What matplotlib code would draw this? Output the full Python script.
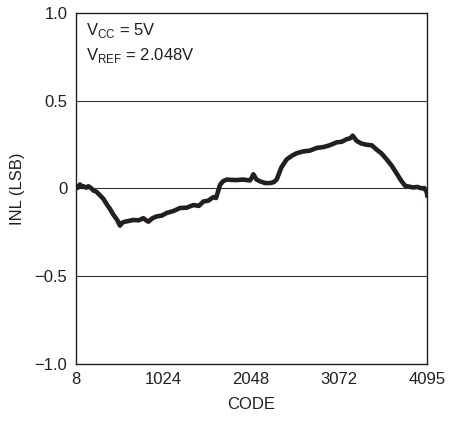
import matplotlib
matplotlib.use("Agg")
import matplotlib.pyplot as plt

# INL curve (code, LSB)
code = [8, 20, 40, 58, 80, 97, 130, 155, 190, 213, 250, 291, 330, 368, 410,
        446, 490, 523, 550, 581, 630, 678, 740, 795, 820, 853, 900, 949, 1010,
        1066, 1140, 1221, 1300, 1376, 1440, 1492, 1550, 1608, 1640, 1686, 1720,
        1763, 1820, 1879, 1950, 2034, 2060, 2073, 2110, 2151, 2210, 2267, 2310,
        2344, 2400, 2461, 2520, 2577, 2650, 2732, 2810, 2887, 2960, 3042, 3100,
        3158, 3200, 3228, 3274, 3330, 3390, 3450, 3507, 3560, 3623, 3680, 3739,
        3790, 3836, 3880, 3933, 3980, 4030, 4060, 4088, 4095]
inl = [0.0, 0.013, 0.005, 0.022, 0.008, 0.012, 0.004, 0.012, 0.0, -0.012,
       -0.02, -0.04, -0.06, -0.09, -0.12, -0.15, -0.18, -0.212, -0.195, -0.19,
       -0.185, -0.18, -0.182, -0.17, -0.18, -0.19, -0.17, -0.16, -0.155,
       -0.14, -0.13, -0.112, -0.11, -0.095, -0.10, -0.075, -0.07, -0.05,
       -0.055, 0.02, 0.04, 0.05, 0.048, 0.047, 0.05, 0.045, 0.065, 0.08, 0.05,
       0.04, 0.03, 0.03, 0.035, 0.05, 0.12, 0.165, 0.185, 0.20, 0.21, 0.215,
       0.23, 0.235, 0.245, 0.262, 0.265, 0.28, 0.285, 0.30, 0.27, 0.255,
       0.248, 0.245, 0.22, 0.20, 0.165, 0.13, 0.085, 0.045, 0.015, 0.01,
       0.005, 0.008, 0.0, 0.002, -0.02, -0.04]

xticks = [8, 1024, 2048, 3072, 4095]
yticks = [-1.0, -0.5, 0, 0.5, 1.0]
ylabels = ["\u22121.0", "\u22120.5", "0", "0.5", "1.0"]

plt.rcParams["font.family"] = ["Liberation Sans", "DejaVu Sans"]
plt.rcParams["mathtext.fontset"] = "custom"
plt.rcParams["mathtext.rm"] = "Liberation Sans"

fig = plt.figure(figsize=(4.49, 4.23), dpi=100)
ax = fig.add_axes([0.1686, 0.1395, 0.783, 0.8305])

for y in [0.5, 0, -0.5]:
    ax.axhline(y, color="#333333", lw=0.8, zorder=1)

ax.plot(code, inl, color="#231f20", lw=3.3, solid_joinstyle="round", zorder=2)

ax.set_xlim(8, 4095)
ax.set_ylim(-1.0, 1.0)
ax.set_xticks(xticks)
ax.set_xticklabels([str(t) for t in xticks])
ax.set_yticks(yticks)
ax.set_yticklabels(ylabels)
ax.tick_params(length=0, labelsize=12, pad=6, colors="#231f20")
for s in ax.spines.values():
    s.set_color("#231f20")
    s.set_linewidth(1.0)

ax.set_xlabel("CODE", fontsize=12, color="#231f20", labelpad=7)
ax.set_ylabel("INL (LSB)", fontsize=12, color="#231f20", labelpad=7)

ax.text(0.03, 0.975, r"V$_{\mathregular{CC}}$ = 5V", transform=ax.transAxes,
        fontsize=12, va="top", ha="left", color="#231f20")
ax.text(0.03, 0.905, r"V$_{\mathregular{REF}}$ = 2.048V", transform=ax.transAxes,
        fontsize=12, va="top", ha="left", color="#231f20")

fig.savefig("out.png", dpi=100)
